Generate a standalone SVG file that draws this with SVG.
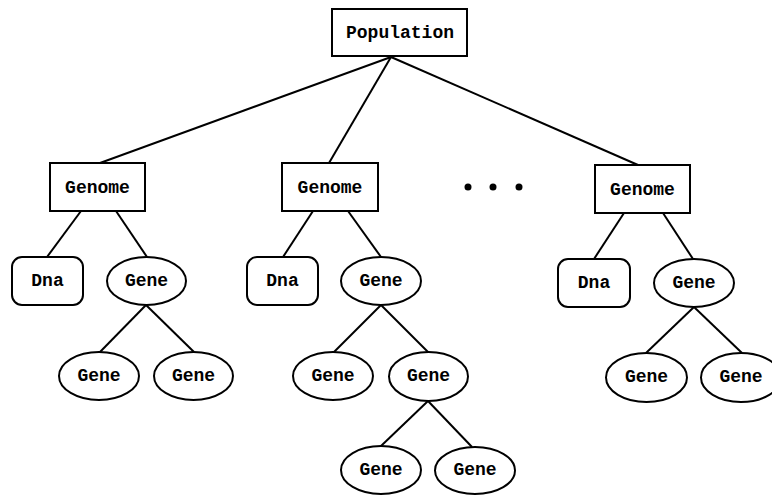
<svg xmlns="http://www.w3.org/2000/svg" width="772" height="495" viewBox="0 0 772 495">
<style>
.n{fill:#fff;stroke:#000;stroke-width:2}
.t{font-family:"Liberation Mono","Courier New",monospace;font-weight:bold;font-size:18px;text-anchor:middle;fill:#000}
.c line{stroke:#000;stroke-width:2}
</style>
<rect width="772" height="495" fill="#fff"/>
<g class="c">
<line x1="391" y1="57" x2="100" y2="163"/>
<line x1="391" y1="57" x2="329" y2="163"/>
<line x1="391" y1="57" x2="638" y2="165"/>
<line x1="81" y1="211" x2="47" y2="257"/>
<line x1="116" y1="211" x2="147" y2="257"/>
<line x1="146" y1="305" x2="100" y2="352"/>
<line x1="146" y1="305" x2="194" y2="352"/>
<line x1="313" y1="211" x2="283" y2="257"/>
<line x1="348" y1="211" x2="381" y2="257"/>
<line x1="381" y1="305" x2="334" y2="352"/>
<line x1="381" y1="305" x2="428" y2="352"/>
<line x1="428" y1="401" x2="381" y2="446"/>
<line x1="428" y1="401" x2="472" y2="447"/>
<line x1="624" y1="213" x2="594" y2="259"/>
<line x1="663" y1="213" x2="693" y2="259"/>
<line x1="694" y1="307" x2="646" y2="353"/>
<line x1="694" y1="307" x2="742" y2="353"/>
</g>
<g id="population"><rect class="n" x="332" y="9" width="135" height="47"/><text class="t" x="400" y="38">Population</text></g>
<g id="genome1"><rect class="n" x="50" y="163" width="95" height="48"/><text class="t" x="97.5" y="193">Genome</text></g>
<g id="genome2"><rect class="n" x="282" y="163" width="96" height="48"/><text class="t" x="330" y="193">Genome</text></g>
<g id="genome3"><rect class="n" x="595" y="165" width="95" height="48"/><text class="t" x="642.5" y="195">Genome</text></g>
<g id="dots"><circle cx="468" cy="187" r="3.5"/><circle cx="493" cy="187" r="3.5"/><circle cx="519" cy="187" r="3.5"/></g>
<g id="dna1"><rect class="n" x="12" y="257" width="71" height="48" rx="10"/><text class="t" x="47.5" y="286">Dna</text></g>
<g id="gene1"><ellipse class="n" cx="146.5" cy="281" rx="39.5" ry="24"/><text class="t" x="146.5" y="286">Gene</text></g>
<g id="gene1a"><ellipse class="n" cx="99" cy="376" rx="40" ry="24"/><text class="t" x="99" y="381">Gene</text></g>
<g id="gene1b"><ellipse class="n" cx="193.5" cy="376" rx="39.5" ry="24"/><text class="t" x="193.5" y="381">Gene</text></g>
<g id="dna2"><rect class="n" x="247" y="257" width="71" height="48" rx="10"/><text class="t" x="282.5" y="286">Dna</text></g>
<g id="gene2"><ellipse class="n" cx="381" cy="281" rx="40" ry="24"/><text class="t" x="381" y="286">Gene</text></g>
<g id="gene2a"><ellipse class="n" cx="333" cy="376" rx="40" ry="24"/><text class="t" x="333" y="381">Gene</text></g>
<g id="gene2b"><ellipse class="n" cx="428.5" cy="376.5" rx="39.5" ry="24.5"/><text class="t" x="428.5" y="381">Gene</text></g>
<g id="gene2ba"><ellipse class="n" cx="381" cy="470" rx="40" ry="24"/><text class="t" x="381" y="475">Gene</text></g>
<g id="gene2bb"><ellipse class="n" cx="475" cy="470.5" rx="40" ry="23.5"/><text class="t" x="475" y="475">Gene</text></g>
<g id="dna3"><rect class="n" x="558" y="259" width="72" height="48" rx="10"/><text class="t" x="594" y="288">Dna</text></g>
<g id="gene3"><ellipse class="n" cx="694" cy="283" rx="40" ry="24"/><text class="t" x="694" y="288">Gene</text></g>
<g id="gene3a"><ellipse class="n" cx="646.5" cy="377.5" rx="40.5" ry="24.5"/><text class="t" x="646.5" y="382">Gene</text></g>
<g id="gene3b"><ellipse class="n" cx="741" cy="377.5" rx="40" ry="24.5"/><text class="t" x="741" y="382">Gene</text></g>
</svg>
